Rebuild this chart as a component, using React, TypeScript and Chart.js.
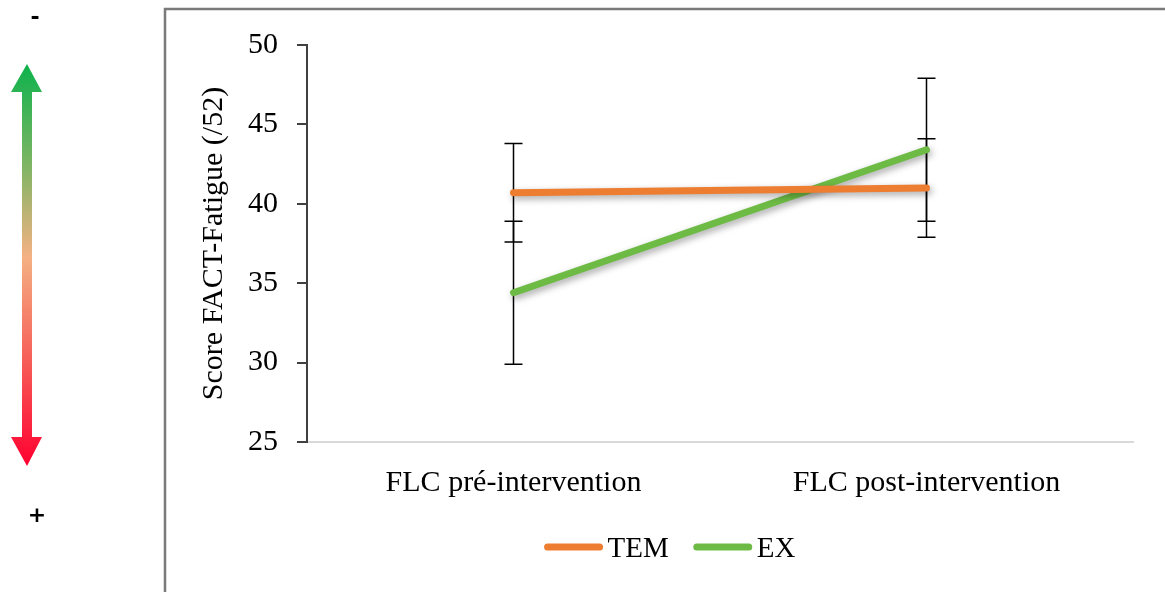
import React, { useEffect, useRef } from "react";
import { Chart, registerables } from "chart.js";

Chart.register(...registerables);

// ---- data ----
const categories = ["FLC pré-intervention", "FLC post-intervention"];
const seriesLabels = ["TEM", "EX"];
const temValues = [40.7, 41.0];
const temErrors = [3.1, 3.1];
const exValues = [34.4, 43.4];
const exErrors = [4.5, 4.5];
const yTickValues = [25, 30, 35, 40, 45, 50];
const yTitle = "Score FACT-Fatigue (/52)";
const arrowTopLabel = "-";
const arrowBottomLabel = "+";

const SERIF = "'Liberation Serif', 'Times New Roman', serif";
const SANS = "'DejaVu Sans', 'Liberation Sans', sans-serif";
const ORANGE = "#ED7D31";
const GREEN = "#6DBB45";

const decorPlugin = {
  id: "decor",
  beforeDraw(chart: any) {
    const ctx = chart.ctx;
    const W = chart.width;
    const H = chart.height;
    ctx.save();
    ctx.fillStyle = "#ffffff";
    ctx.fillRect(0, 0, W, H);
    // frame
    ctx.strokeStyle = "#7a7a7a";
    ctx.lineWidth = 2.5;
    ctx.beginPath();
    ctx.moveTo(165, H + 2);
    ctx.lineTo(165, 9);
    ctx.lineTo(W + 2, 9);
    ctx.stroke();
    // gradient arrow
    const grad = ctx.createLinearGradient(0, 64, 0, 466);
    grad.addColorStop(0, "#0db24c");
    grad.addColorStop(0.25, "#7db564");
    grad.addColorStop(0.48, "#f4b183");
    grad.addColorStop(0.75, "#f65a56");
    grad.addColorStop(1, "#ff0030");
    ctx.fillStyle = grad;
    ctx.beginPath();
    ctx.moveTo(27, 64);
    ctx.lineTo(42, 92);
    ctx.lineTo(32, 92);
    ctx.lineTo(32, 437);
    ctx.lineTo(42, 437);
    ctx.lineTo(27, 466);
    ctx.lineTo(11, 437);
    ctx.lineTo(22, 437);
    ctx.lineTo(22, 92);
    ctx.lineTo(11, 92);
    ctx.closePath();
    ctx.fill();
    ctx.fillStyle = "#000000";
    ctx.font = `bold 22px ${SANS}`;
    ctx.textAlign = "center";
    ctx.textBaseline = "middle";
    ctx.fillText(arrowTopLabel, 35, 18);
    ctx.fillText(arrowBottomLabel, 37, 516);
    ctx.restore();
  },
};

const errorBarPlugin = {
  id: "errorBars",
  beforeDatasetsDraw(chart: any) {
    const ctx = chart.ctx;
    const yScale = chart.scales.y;
    ctx.save();
    ctx.strokeStyle = "#000000";
    ctx.lineWidth = 1.5;
    chart.data.datasets.forEach((ds: any, di: number) => {
      const meta = chart.getDatasetMeta(di);
      ds.data.forEach((v: number, i: number) => {
        const e = ds.errors[i];
        const x = meta.data[i].x;
        const yTop = yScale.getPixelForValue(v + e);
        const yBot = yScale.getPixelForValue(v - e);
        ctx.beginPath();
        ctx.moveTo(x, yTop);
        ctx.lineTo(x, yBot);
        ctx.moveTo(x - 9, yTop);
        ctx.lineTo(x + 9, yTop);
        ctx.moveTo(x - 9, yBot);
        ctx.lineTo(x + 9, yBot);
        ctx.stroke();
      });
    });
    ctx.restore();
  },
};

const shadowPlugin = {
  id: "lineShadow",
  beforeDatasetDraw(chart: any) {
    const ctx = chart.ctx;
    ctx.save();
    ctx.shadowColor = "rgba(0,0,0,0.35)";
    ctx.shadowBlur = 7;
    ctx.shadowOffsetX = 2;
    ctx.shadowOffsetY = 3;
  },
  afterDatasetDraw(chart: any) {
    chart.ctx.restore();
  },
};

const legendPlugin = {
  id: "customLegend",
  afterDraw(chart: any) {
    const ctx = chart.ctx;
    ctx.save();
    ctx.font = `29px ${SERIF}`;
    const lineLen = 58;
    const gapText = 5;
    const gapItem = 25;
    const items = chart.data.datasets.map((ds: any) => ({
      label: ds.label,
      color: ds.borderColor,
      w: ctx.measureText(ds.label).width,
    }));
    let total = 0;
    items.forEach((it: any, i: number) => {
      total += lineLen + gapText + it.w + (i < items.length - 1 ? gapItem : 0);
    });
    let x = 670 - total / 2;
    const y = 547;
    items.forEach((it: any) => {
      ctx.strokeStyle = it.color;
      ctx.lineWidth = 7;
      ctx.lineCap = "round";
      ctx.beginPath();
      ctx.moveTo(x + 3, y);
      ctx.lineTo(x + lineLen - 3, y);
      ctx.stroke();
      x += lineLen + gapText;
      ctx.fillStyle = "#000000";
      ctx.textAlign = "left";
      ctx.textBaseline = "middle";
      ctx.fillText(it.label, x, y + 2);
      x += it.w + gapItem;
    });
    ctx.restore();
  },
};

export default function App() {
  const canvasRef = useRef<HTMLCanvasElement | null>(null);

  useEffect(() => {
    document.body.style.margin = "0";
    const canvas = canvasRef.current;
    if (!canvas) return;
    const chart = new Chart(canvas, {
      type: "line",
      data: {
        labels: categories,
        datasets: [
          {
            label: seriesLabels[0],
            data: temValues,
            errors: temErrors,
            borderColor: ORANGE,
            backgroundColor: ORANGE,
            borderWidth: 7,
            borderCapStyle: "round",
            pointRadius: 0,
            pointHoverRadius: 0,
            fill: false,
          } as any,
          {
            label: seriesLabels[1],
            data: exValues,
            errors: exErrors,
            borderColor: GREEN,
            backgroundColor: GREEN,
            borderWidth: 7,
            borderCapStyle: "round",
            pointRadius: 0,
            pointHoverRadius: 0,
            fill: false,
          } as any,
        ],
      },
      options: {
        responsive: false,
        animation: false,
        devicePixelRatio: 1,
        layout: { padding: { left: 165, right: 32, top: 45, bottom: 80 } },
        plugins: {
          legend: { display: false },
          tooltip: { enabled: false },
        },
        scales: {
          x: {
            type: "category",
            offset: true,
            grid: { drawOnChartArea: false, drawTicks: false },
            border: { color: "#d9d9d9", width: 2 },
            ticks: {
              color: "#000000",
              font: { family: SERIF, size: 30 },
              padding: 23,
              maxRotation: 0,
            },
            afterFit(scale: any) {
              scale.height = 70;
            },
          },
          y: {
            min: yTickValues[0],
            max: yTickValues[yTickValues.length - 1],
            afterBuildTicks(scale: any) {
              scale.ticks = yTickValues.map((v) => ({ value: v }));
            },
            grid: {
              drawOnChartArea: false,
              drawTicks: true,
              tickLength: 10,
              color: "#404040",
              lineWidth: 2,
            },
            border: { color: "#404040", width: 2 },
            ticks: {
              color: "#000000",
              font: { family: SERIF, size: 30 },
              padding: 19,
            },
            title: {
              display: true,
              text: yTitle,
              color: "#000000",
              font: { family: SERIF, size: 30 },
              padding: { top: 31, bottom: 0 },
            },
            afterFit(scale: any) {
              scale.width = 142;
            },
          },
        },
      } as any,
      plugins: [decorPlugin, errorBarPlugin, shadowPlugin, legendPlugin],
    });
    return () => chart.destroy();
  }, []);

  return (
    <div style={{ width: 1165, height: 592 }}>
      <canvas ref={canvasRef} width={1165} height={592} style={{ display: "block" }} />
    </div>
  );
}
